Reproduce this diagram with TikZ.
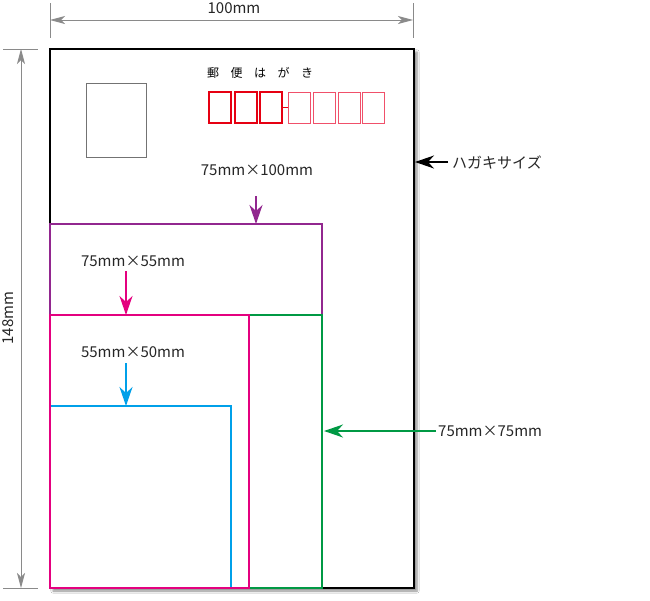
\documentclass[tikz,border=0pt]{standalone}
\usepackage{fontspec}
\setmainfont{Noto Sans CJK JP}
\usetikzlibrary{arrows.meta,shadows.blur}
\definecolor{cpurple}{HTML}{92278F}
\definecolor{cmag}{HTML}{E4007F}
\definecolor{cblue}{HTML}{00A0E9}
\definecolor{cgreen}{HTML}{009944}
\definecolor{cred}{HTML}{E60012}
\definecolor{cred2}{HTML}{F0506A}
\definecolor{cdim}{HTML}{8A8A8A}
\tikzset{
  box/.style={draw, anchor=north west, inner sep=0pt, outer sep=0pt},
  lbl/.style={font=\fontsize{15}{17}\selectfont, text=black!85, inner sep=0pt},
  dimline/.style={draw=cdim, line width=0.9pt},
  dimarrow/.style={draw=cdim, line width=0.9pt, {Stealth[length=15pt,width=8pt,inset=4pt]}-{Stealth[length=15pt,width=8pt,inset=4pt]}},
  carr/.style={line width=1.6pt, -{Stealth[length=19pt,width=13pt,inset=6pt]}},
  zipbox/.style={box, minimum width=22pt, minimum height=31pt},
}
\begin{document}
\begin{tikzpicture}[x=1pt,y=-1pt]
\useasboundingbox[fill=white] (0,0) rectangle (650,600);
% card
\node[box, line width=1.1pt, fill=white, minimum width=364pt, minimum height=539pt,
  blur shadow={shadow xshift=3pt, shadow yshift=-3pt, shadow blur steps=6, shadow opacity=45}] (card) at (50,49) {};
% stamp
\node[box, draw=black!55, line width=0.9pt, minimum width=60pt, minimum height=74pt] (stamp) at (86,83) {};
% postal text
\node[anchor=west, inner sep=0pt, font=\fontsize{12}{14}\selectfont] (yubin) at (207,73) {郵\hskip 11.5pt便\hskip 11.5ptは\hskip 11.5ptが\hskip 11.5ptき};
% zip boxes
\node[zipbox, draw=cred, line width=1.6pt] (z1) at (209,92) {};
\node[zipbox, draw=cred, line width=1.6pt] (z2) at (235,92) {};
\node[zipbox, draw=cred, line width=1.6pt] (z3) at (260,92) {};
\node[zipbox, draw=cred2, line width=1pt] (z4) at (288,92) {};
\node[zipbox, draw=cred2, line width=1pt] (z5) at (313,92) {};
\node[zipbox, draw=cred2, line width=1pt] (z6) at (338,92) {};
\node[zipbox, draw=cred2, line width=1pt] (z7) at (362,92) {};
\draw[cred, line width=1pt] (z3.east) -- (z4.west);
% coloured rectangles
\node[box, draw=cpurple, line width=1.6pt, minimum width=272pt, minimum height=91pt] (r100) at (50,224) {};
\node[box, draw=cgreen, line width=1.6pt, minimum width=272pt, minimum height=273pt] (r75) at (50,315) {};
\node[box, draw=cblue, line width=1.6pt, minimum width=181pt, minimum height=182pt] (r50) at (50,406) {};
\node[box, draw=cmag, line width=1.6pt, minimum width=199pt, minimum height=273pt] (r55) at (50,315) {};
% labels and arrows
\node[lbl] (l100) at (257,170) {75mm×100mm};
\coordinate (t100) at (256,196);
\coordinate (h100) at (256,224);
\draw[carr, cpurple] (t100) -- (h100);
\node[lbl] (l55) at (133,261) {75mm×55mm};
\coordinate (t55) at (126,271);
\coordinate (h55) at (126,315);
\draw[carr, cmag] (t55) -- (h55);
\node[lbl] (l50) at (133,352) {55mm×50mm};
\coordinate (t50) at (126,363);
\coordinate (h50) at (126,406);
\draw[carr, cblue] (t50) -- (h50);
\node[lbl, anchor=west] (l75) at (438,431) {75mm×75mm};
\coordinate (h75) at (324,431);
\draw[carr, cgreen] (l75.west) ++(-2,0) -- (h75);
\node[lbl, anchor=west] (lh) at (452,162) {ハガキサイズ};
\coordinate (hh) at (415,162);
\draw[carr, black, line width=1.3pt] (lh.west) ++(-4,0) -- (hh);
% dimensions
\coordinate (tl) at (50,3); \coordinate (tl2) at (50,38);
\coordinate (tr) at (413,3); \coordinate (tr2) at (413,38);
\draw[dimline] (tl) -- (tl2);
\draw[dimline] (tr) -- (tr2);
\coordinate (da) at (50,20); \coordinate (db) at (413,20);
\draw[dimarrow] (da) -- (db);
\node[lbl] (w) at (234,8) {100mm};
\coordinate (lt) at (3,49); \coordinate (lt2) at (38,49);
\coordinate (lb) at (3,588); \coordinate (lb2) at (38,588);
\draw[dimline] (lt) -- (lt2);
\draw[dimline] (lb) -- (lb2);
\coordinate (va) at (21,49); \coordinate (vb) at (21,588);
\draw[dimarrow] (va) -- (vb);
\node[lbl, rotate=90] (h) at (8,318) {148mm};
\end{tikzpicture}
\end{document}
